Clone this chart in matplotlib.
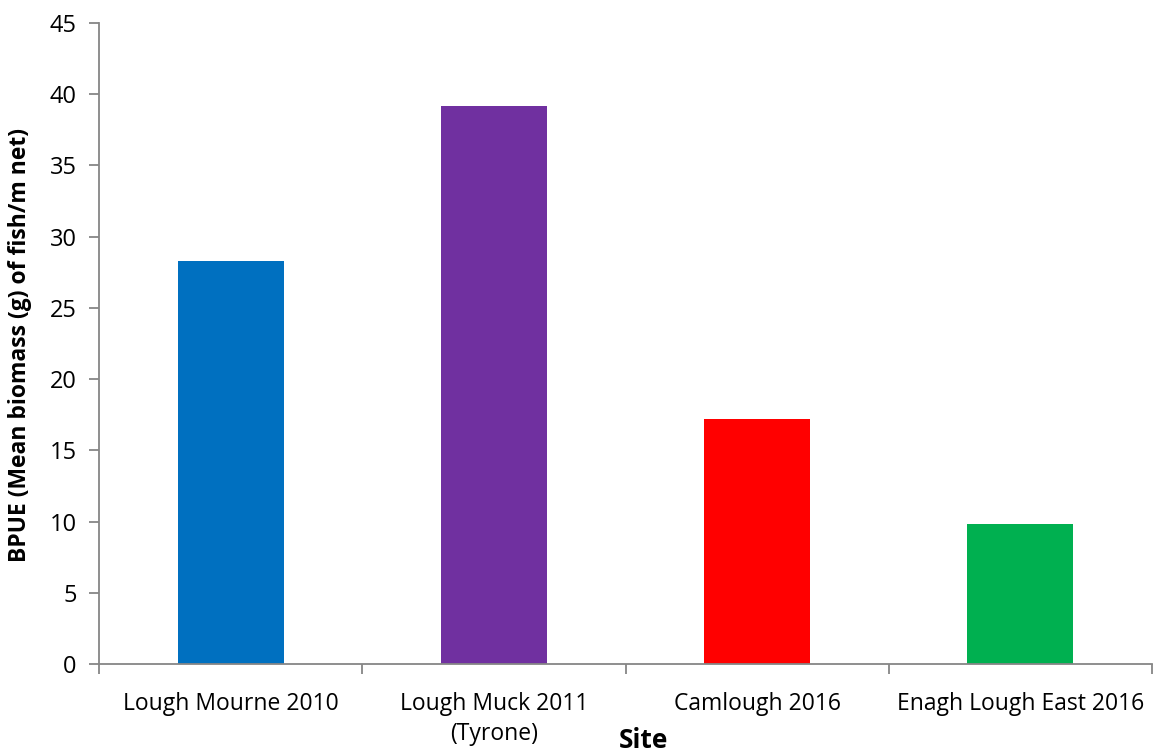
import matplotlib
matplotlib.use("Agg")
import matplotlib.pyplot as plt

categories = ["Lough Mourne 2010", "Lough Muck 2011\n(Tyrone)", "Camlough 2016", "Enagh Lough East 2016"]
values = [28.3, 39.2, 17.2, 9.85]
colors = ["#0070C0", "#7030A0", "#FF0000", "#00B050"]
yticks = [0, 5, 10, 15, 20, 25, 30, 35, 40, 45]

plt.rcParams['font.family'] = ['Open Sans', 'DejaVu Sans']

W, H = 1153, 752
fig = plt.figure(figsize=(W/100, H/100), dpi=100)
left, right, top, bottom = 99, 1152, 23, 664
ax = fig.add_axes([left/W, 1-bottom/H, (right-left)/W, (bottom-top)/H])

x = list(range(len(categories)))
ax.bar(x, values, width=0.403, color=colors)
ax.set_xlim(-0.5, len(categories)-0.5)
ax.set_ylim(0, 45)
ax.set_yticks(yticks)
ax.set_yticklabels([str(t) for t in yticks], fontsize=17)
ax.set_xticks([i - 0.5 for i in range(len(categories)+1)])
ax.set_xticklabels([])
ax.set_xticks(x, minor=True)
ax.set_xticklabels(categories, minor=True, fontsize=16.5, linespacing=1.35)
ax.tick_params(axis='x', which='minor', length=0, pad=20)
ax.tick_params(axis='x', which='major', length=7, width=1.3, color='#868686', direction='out')
ax.tick_params(axis='y', length=7, width=1.3, color='#868686', direction='out', pad=9)

for s in ['top', 'right']:
    ax.spines[s].set_visible(False)
for s in ['left', 'bottom']:
    ax.spines[s].set_color('#868686')
    ax.spines[s].set_linewidth(1.3)

ax.set_ylabel("BPUE (Mean biomass (g) of fish/m net)", fontsize=16.5, fontweight='bold', va='center')
ax.yaxis.set_label_coords(-(left-20)/(right-left), (bottom-345)/(bottom-top))
ax.set_xlabel("Site", fontsize=19, fontweight='bold', va='center')
ax.xaxis.set_label_coords((644-left)/(right-left), -(740-bottom)/(bottom-top))

fig.savefig("out.png", dpi=100)
